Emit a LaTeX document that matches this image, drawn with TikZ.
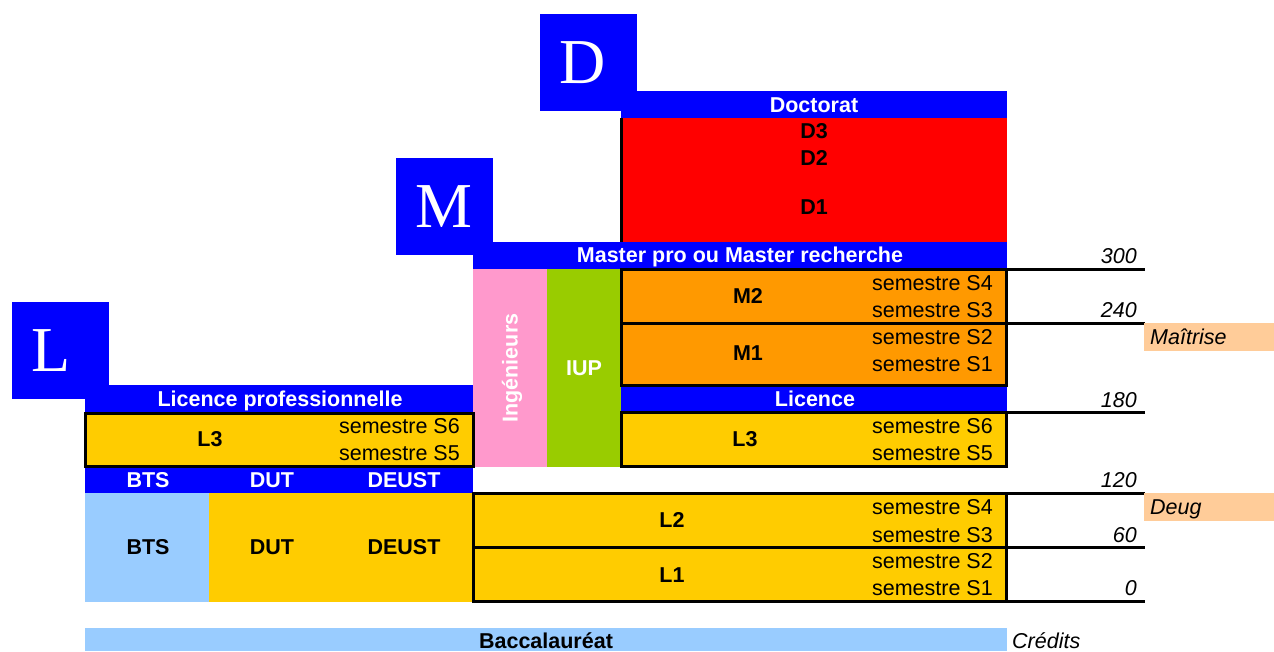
\documentclass[tikz,border=0pt]{standalone}
\usepackage{fontspec}
\setmainfont{Liberation Sans}
\newfontfamily\bigserif{Liberation Serif}
\definecolor{lmdblue}{HTML}{0000FF}
\definecolor{lmdred}{HTML}{FF0000}
\definecolor{lmdorange}{HTML}{FF9900}
\definecolor{lmdyellow}{HTML}{FFCC00}
\definecolor{lmdgreen}{HTML}{99CC00}
\definecolor{lmdpink}{HTML}{FF99CC}
\definecolor{lmdlight}{HTML}{99CCFF}
\definecolor{lmdpeach}{HTML}{FFCC99}
\begin{document}
\begin{tikzpicture}[x=1pt,y=-1pt,
  lab/.style={font=\fontsize{21.5}{24}\selectfont, inner sep=0pt, text height=15.4pt, text depth=0pt},
  blab/.style={lab, font=\fontsize{21.5}{24}\selectfont\bfseries},
  wlab/.style={blab, text=white},
  sem/.style={lab, anchor=east},
  num/.style={lab, font=\fontsize{21.5}{24}\selectfont\itshape, anchor=east},
  side/.style={lab, font=\fontsize{21.5}{24}\selectfont\itshape, anchor=west},
  big/.style={font=\bigserif\fontsize{64}{64}\selectfont, text=white, anchor=west, inner sep=0pt, text height=42pt, text depth=0pt},
  bbox/.style={line width=3pt, draw=black},
  rule/.style={line width=3pt, draw=black}
]
\useasboundingbox (0,0) rectangle (1274,651);
\fill[white] (0,0) rectangle (1274,651);

% Baccalaureat
\fill[lmdlight] (85,628) rectangle (1007,651);
\node[blab] (bac) at (546,641) {Baccalauréat};
\node[side] (cred) at (1012,641) {Crédits};

% Doctorat
\fill[lmdblue] (540,14) rectangle (637,111);
\node[big] (Dl) at (559,62.5) {D};
\fill[lmdblue] (621,91) rectangle (1007,118);
\node[wlab] (doct) at (814,104.5) {Doctorat};
\fill[lmdred] (621,118) rectangle (1007,242);
\draw[rule] (621.5,118) coordinate (rl1) -- (621.5,242) coordinate (rl2);
\node[blab] (d3) at (814,131) {D3};
\node[blab] (d2) at (814,158) {D2};
\node[blab] (d1) at (814,206.5) {D1};

% Master
\fill[lmdblue] (396,158) rectangle (493,255);
\node[big] (Ml) at (415,206.5) {M};
\fill[lmdblue] (473,242) rectangle (1007,269);
\node[wlab] (mast) at (740,255) {Master pro ou Master recherche};
\fill[lmdpink] (473,269) rectangle (547,467);
\node[wlab, rotate=90] (ing) at (510,368) {Ingénieurs};
\fill[lmdgreen] (547,269) rectangle (621,467);
\node[wlab] (iup) at (584,368) {IUP};
\filldraw[bbox, fill=lmdorange] (621.5,269.5) rectangle (1006.5,323);
\filldraw[bbox, fill=lmdorange] (621.5,323) rectangle (1006.5,385.5);
\node[blab] (m2) at (748,296) {M2};
\node[sem] (m2a) at (993,282.5) {semestre S4};
\node[sem] (m2b) at (993,310) {semestre S3};
\node[blab] (m1) at (748,353) {M1};
\node[sem] (m1a) at (993,336.5) {semestre S2};
\node[sem] (m1b) at (993,364) {semestre S1};

% Licence (right)
\fill[lmdblue] (621,387) rectangle (1007,411);
\node[wlab] (lic) at (815,398.5) {Licence};
\filldraw[bbox, fill=lmdyellow] (621.5,412.5) rectangle (1006.5,466);
\node[blab] (l3r) at (745,439) {L3};
\node[sem] (l3ra) at (993,425.5) {semestre S6};
\node[sem] (l3rb) at (993,452.5) {semestre S5};

% Licence professionnelle (left)
\fill[lmdblue] (12,302) rectangle (109,399);
\node[big] (Ll) at (31,350.5) {L};
\fill[lmdblue] (85,385) rectangle (473,412);
\node[wlab] (lpro) at (280,398.5) {Licence professionnelle};
\filldraw[bbox, fill=lmdyellow] (85,413) rectangle (473,466);
\node[blab] (l3l) at (210,439) {L3};
\node[sem] (l3la) at (460,425.5) {semestre S6};
\node[sem] (l3lb) at (460,452.5) {semestre S5};

% BTS DUT DEUST
\fill[lmdblue] (85,467.5) rectangle (473,493);
\node[wlab] (btsh) at (148,480) {BTS};
\node[wlab] (duth) at (272,480) {DUT};
\node[wlab] (deuh) at (404,480) {DEUST};
\fill[lmdlight] (85,493) rectangle (209,602);
\fill[lmdyellow] (209,493) rectangle (473,602);
\node[blab] (bts) at (148,547) {BTS};
\node[blab] (dut) at (272,547) {DUT};
\node[blab] (deu) at (404,547) {DEUST};

% L2 L1
\filldraw[bbox, fill=lmdyellow] (473,493) rectangle (1006.5,547);
\filldraw[bbox, fill=lmdyellow] (473,547) rectangle (1006.5,601);
\node[blab] (l2) at (672,520) {L2};
\node[sem] (l2a) at (993,507) {semestre S4};
\node[sem] (l2b) at (993,534.5) {semestre S3};
\node[blab] (l1) at (672,575) {L1};
\node[sem] (l1a) at (993,561) {semestre S2};
\node[sem] (l1b) at (993,588) {semestre S1};

% credit scale
\foreach \yy/\nm in {269.5/a,323/b,412.5/c,493/d,547/e,601/f}{
  \coordinate (s\nm) at (1006.5,\yy);
  \coordinate (e\nm) at (1145,\yy);
  \draw[rule] (s\nm) -- (e\nm);
}
\node[num] (n300) at (1137,256) {300};
\node[num] (n240) at (1137,310) {240};
\node[num] (n180) at (1137,400) {180};
\node[num] (n120) at (1137,480) {120};
\node[num] (n60) at (1137,535) {60};
\node[num] (n0) at (1137,588) {0};

\fill[lmdpeach] (1144,323) rectangle (1274,351);
\node[side] (mait) at (1150,337) {Maîtrise};
\fill[lmdpeach] (1144,493) rectangle (1274,521);
\node[side] (deug) at (1150,507) {Deug};
\end{tikzpicture}
\end{document}
